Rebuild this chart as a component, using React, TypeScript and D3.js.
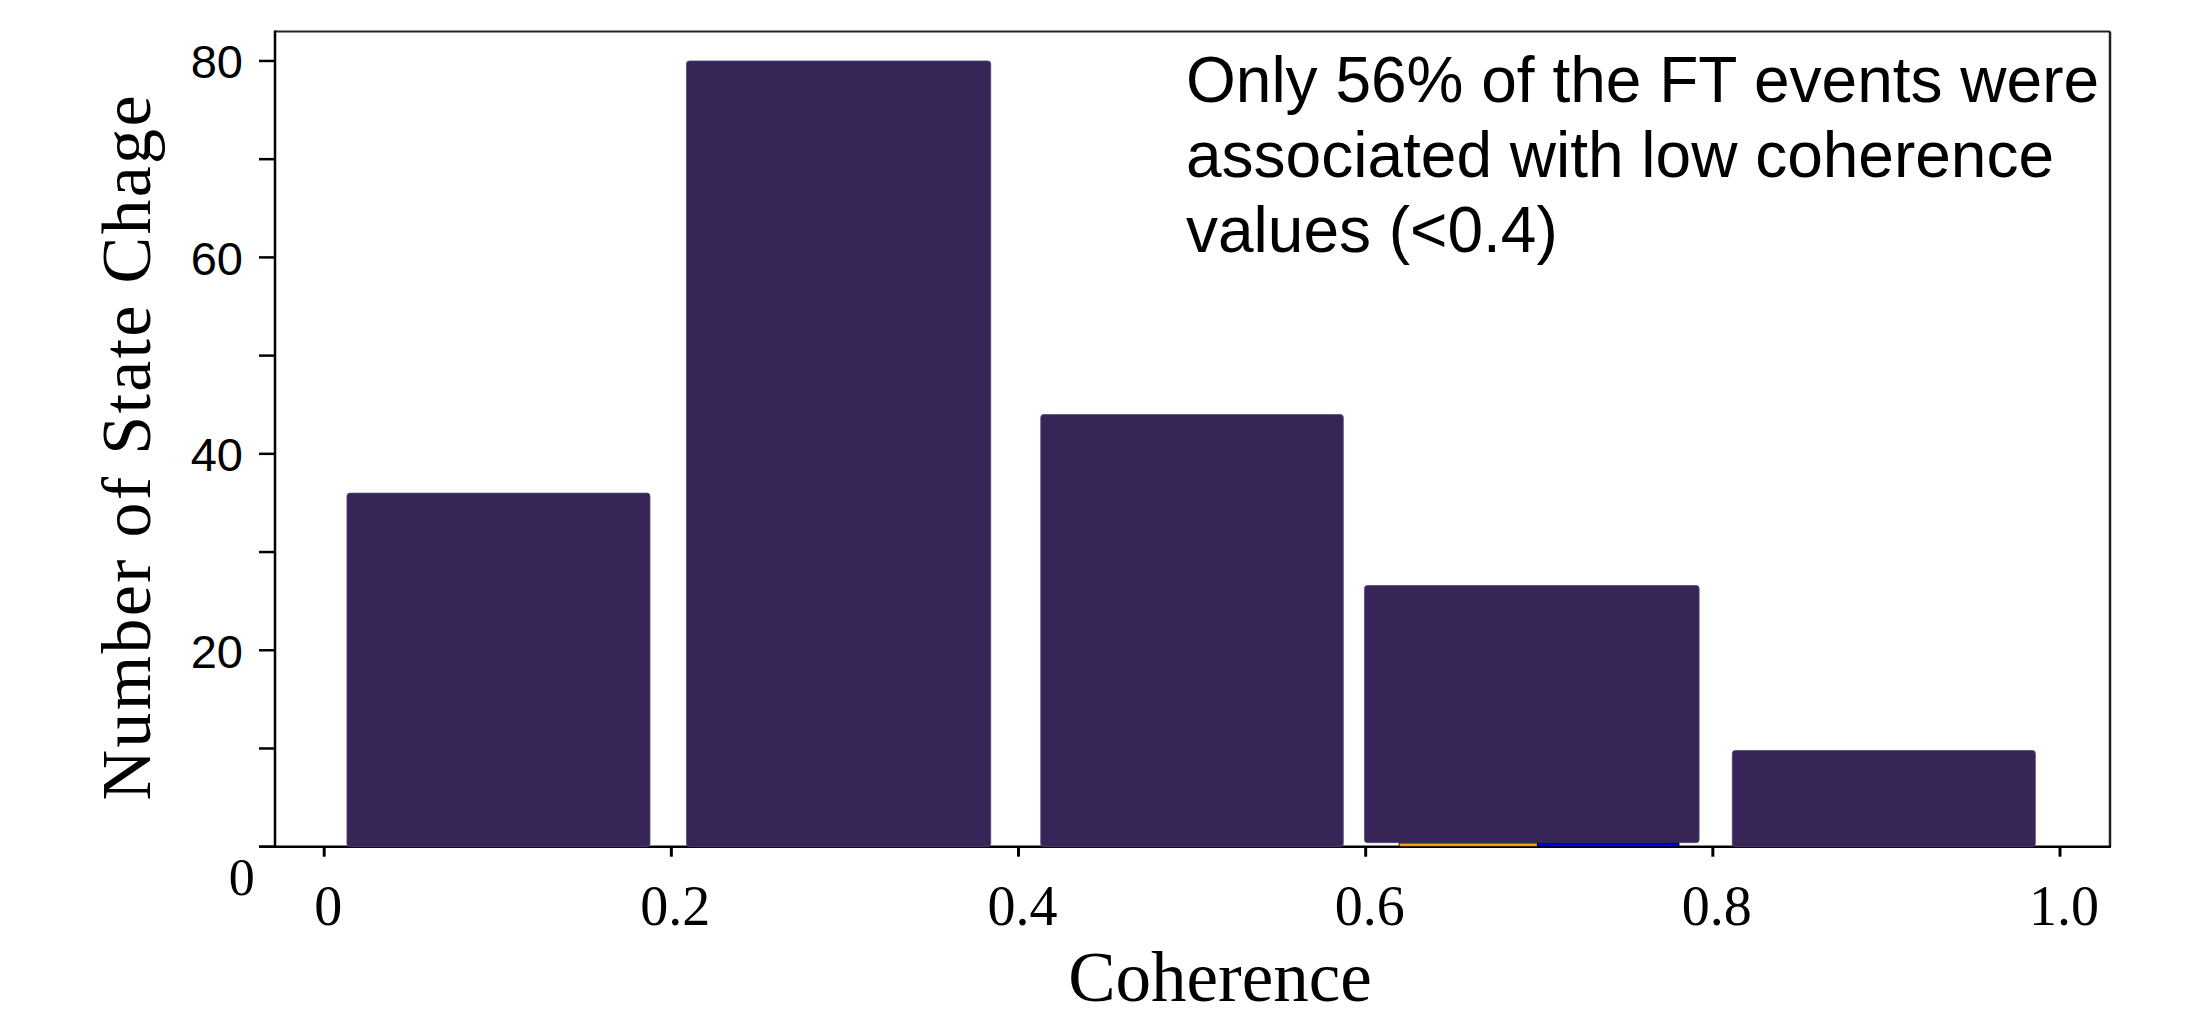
import React from "react";
import * as d3 from "d3";

// Histogram bins (coherence) and counts
const binStarts = [0.0131, 0.2087, 0.4128, 0.5993, 0.8112];
const binEnds = [0.1877, 0.384, 0.5871, 0.7921, 0.9858];
const counts = [36, 80, 44, 26.6, 9.8];
const bases = [0, 0, 0, 0.41, 0];

// tiny overlaid bars (other series) under the 4th bin
const smallStarts = [0.6193, 0.6989];
const smallEnds = [0.6989, 0.7805];
const smallValues = [0.38, 0.38];
const smallColors = ["#f0a000", "#0000ee"];

const xTicks = [0, 0.2, 0.4, 0.6, 0.8, 1.0];
const xTickLabels = ["0", "0.2", "0.4", "0.6", "0.8", "1.0"];
const yMajorTicks = [20, 40, 60, 80];
const yMinorTicks = [0, 10, 30, 50, 70];

const annotationLines = [
  "Only 56% of the FT events were",
  "associated with low coherence",
  "values (<0.4)",
];

const W = 2212;
const H = 1017;
const frame = { left: 275, right: 2110, top: 31.5, bottom: 846.7 };

export default function App() {
  const x = d3.scaleLinear().domain([0, 1]).range([324.2, 2060]);
  const y = d3.scaleLinear().domain([0, 83]).range([frame.bottom, frame.top]);
  const sans = "'Liberation Sans', Arial, Helvetica, sans-serif";
  const serif = "'Liberation Serif', 'Times New Roman', Times, serif";
  const barFill = "#372557";

  return (
    <svg
      width={W}
      height={H}
      style={{ position: "absolute", left: 0, top: 0, background: "#fff" }}
    >
      <rect x={0} y={0} width={W} height={H} fill="#fff" />
      {/* frame top & right */}
      <line x1={frame.left} x2={frame.right} y1={frame.top} y2={frame.top} stroke="#222" strokeWidth={2} />
      <line x1={frame.right} x2={frame.right} y1={frame.top} y2={frame.bottom} stroke="#222" strokeWidth={2.5} />
      {/* left axis */}
      <line x1={frame.left} x2={frame.left} y1={frame.top - 1} y2={frame.bottom + 1} stroke="#000" strokeWidth={2.5} />
      {/* bottom axis */}
      <line x1={259} x2={frame.right + 1} y1={frame.bottom} y2={frame.bottom} stroke="#000" strokeWidth={2.5} />

      {/* y ticks */}
      {[...yMajorTicks, ...yMinorTicks].map((t) => (
        <line key={"yt" + t} x1={259} x2={frame.left} y1={y(t)} y2={y(t)} stroke="#000" strokeWidth={2.5} />
      ))}
      {yMajorTicks.map((t) => (
        <text
          key={"yl" + t}
          x={243}
          y={y(t) + 1}
          textAnchor="end"
          dominantBaseline="central"
          fontFamily={sans}
          fontSize={47}
          fill="#000"
        >
          {t}
        </text>
      ))}
      <text x={241.7} y={877} textAnchor="middle" dominantBaseline="central" fontFamily={serif} fontSize={52} fill="#000">
        0
      </text>

      {/* x ticks */}
      {xTicks.map((t, i) => (
        <g key={"xt" + i}>
          <line x1={x(t)} x2={x(t)} y1={frame.bottom} y2={frame.bottom + 10} stroke="#000" strokeWidth={3} />
          <text x={x(t) + 4} y={925} textAnchor="middle" fontFamily={serif} fontSize={56} fill="#000">
            {xTickLabels[i]}
          </text>
        </g>
      ))}

      {/* bars */}
      {counts.map((c, i) => (
        <rect
          key={"b" + i}
          x={x(binStarts[i])}
          y={y(c)}
          width={x(binEnds[i]) - x(binStarts[i])}
          height={y(bases[i]) - y(c)}
          rx={3}
          ry={3}
          fill={barFill}
          stroke="#54477a"
          strokeWidth={0.8}
        />
      ))}

      {/* small bars */}
      {smallValues.map((v, i) => (
        <rect
          key={"s" + i}
          x={x(smallStarts[i])}
          y={y(v)}
          width={x(smallEnds[i]) - x(smallStarts[i])}
          height={y(0) - y(v)}
          fill={smallColors[i]}
          stroke="#000"
          strokeWidth={0.8}
        />
      ))}

      {/* annotation */}
      {annotationLines.map((l, i) => (
        <text key={"a" + i} x={1186} y={102 + i * 75} fontFamily={sans} fontSize={64} fill="#000">
          {l}
        </text>
      ))}

      {/* axis titles */}
      <text x={1220} y={1001} textAnchor="middle" fontFamily={serif} fontSize={71} fill="#000">
        Coherence
      </text>
      <text
        transform={`translate(150, 448) rotate(-90)`}
        textAnchor="middle"
        fontFamily={serif}
        fontSize={70}
        fill="#000"
        textLength={705}
        lengthAdjust="spacing"
      >
        Number of State Chage
      </text>
    </svg>
  );
}
